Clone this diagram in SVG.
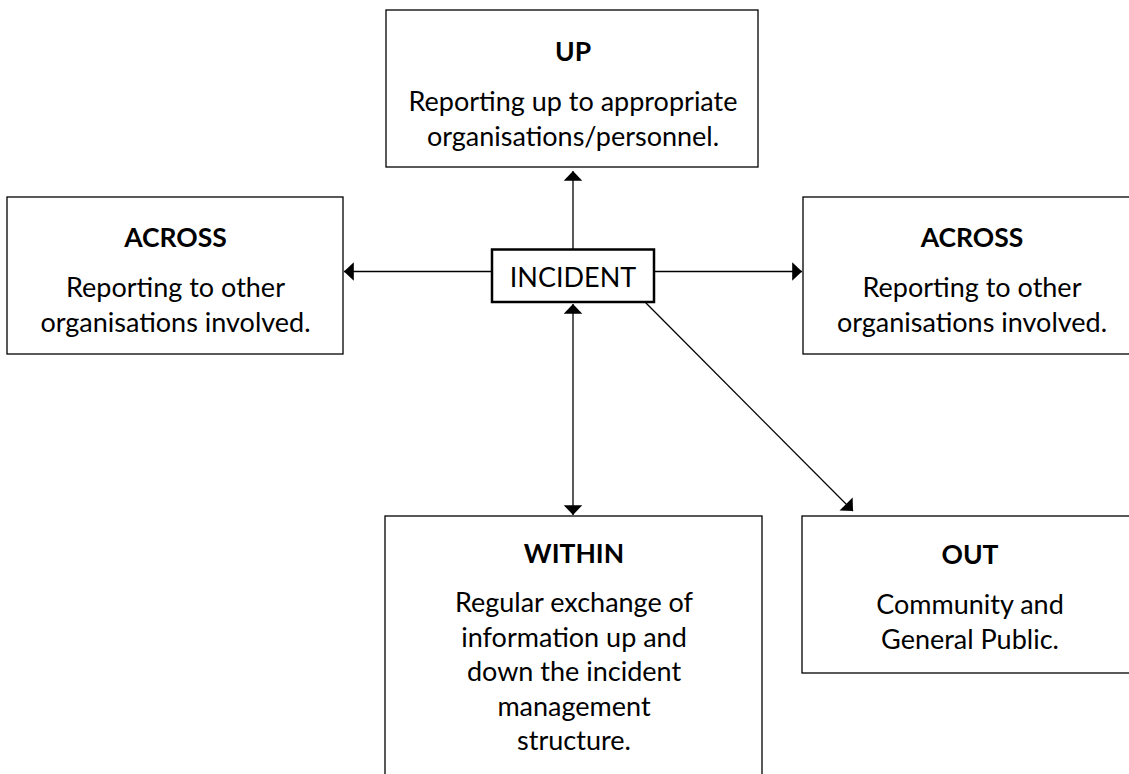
<svg xmlns="http://www.w3.org/2000/svg" width="1129" height="774" viewBox="0 0 1129 774">
  <defs>
    <marker id="ah" markerUnits="userSpaceOnUse" markerWidth="12" markerHeight="20" viewBox="-10 -9 11 18" refX="0" refY="0" orient="auto-start-reverse">
      <path d="M0,0 L-9,-8.5 L-9,8.5 Z" fill="#000"/>
    </marker>
  </defs>
  <style>
    .box { fill: #fff; stroke: #000; stroke-width: 1.3; }
    .inc { fill: #fff; stroke: #000; stroke-width: 2.5; }
    .t { font-family: Lato, "Liberation Sans", sans-serif; font-size: 27px; fill: #000; text-anchor: middle; }
    .b { font-weight: bold; font-size: 26.5px; }
    .c { stroke: #000; stroke-width: 1.3; fill: none; marker-end: url(#ah); }
  </style>
  <rect width="1129" height="774" fill="#fff"/>

  <g id="connectors">
    <line class="c" x1="573" y1="249" x2="573" y2="171"/>
    <line class="c" x1="491" y1="271.5" x2="344" y2="271.5"/>
    <line class="c" x1="654" y1="271.5" x2="802" y2="271.5"/>
    <line class="c" x1="573" y1="304" x2="573" y2="515" style="marker-start:url(#ah)"/>
    <line class="c" x1="645" y1="302" x2="853" y2="511"/>
  </g>

  <g id="node-up">
    <rect class="box" x="386" y="10" width="372" height="157"/>
    <text class="t b" x="573" y="61">UP</text>
    <text class="t" x="573" y="111">Reporting up to appropriate</text>
    <text class="t" x="573" y="145.5">organisations/personnel.</text>
  </g>

  <g id="node-across-left">
    <rect class="box" x="7" y="197" width="336" height="157"/>
    <text class="t b" x="175.5" y="247">ACROSS</text>
    <text class="t" x="175.5" y="297">Reporting to other</text>
    <text class="t" x="175.5" y="331.5">organisations involved.</text>
  </g>

  <g id="node-across-right">
    <rect class="box" x="803" y="197" width="340" height="157"/>
    <text class="t b" x="972" y="247">ACROSS</text>
    <text class="t" x="972" y="297">Reporting to other</text>
    <text class="t" x="972" y="331.5">organisations involved.</text>
  </g>

  <g id="node-incident">
    <rect class="inc" x="492" y="249.5" width="162" height="52.5"/>
    <text class="t" x="573" y="286.5">INCIDENT</text>
  </g>

  <g id="node-within">
    <rect class="box" x="385" y="516" width="377" height="280"/>
    <text class="t b" x="574" y="563">WITHIN</text>
    <text class="t" x="574" y="612">Regular exchange of</text>
    <text class="t" x="574" y="646.5">information up and</text>
    <text class="t" x="574" y="681">down the incident</text>
    <text class="t" x="574" y="715.5">management</text>
    <text class="t" x="574" y="750">structure.</text>
  </g>

  <g id="node-out">
    <rect class="box" x="802" y="516" width="340" height="157"/>
    <text class="t b" x="970" y="564">OUT</text>
    <text class="t" x="970" y="614">Community and</text>
    <text class="t" x="970" y="648.5">General Public.</text>
  </g>
</svg>
